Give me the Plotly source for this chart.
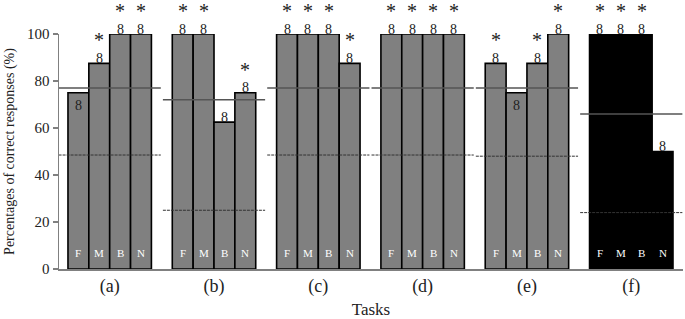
import plotly.graph_objects as go

groups = ["(a)", "(b)", "(c)", "(d)", "(e)", "(f)"]
conditions = ["F", "M", "B", "N"]
values = [
    [75, 87.5, 100, 100],
    [100, 100, 62.5, 75],
    [100, 100, 100, 87.5],
    [100, 100, 100, 100],
    [87.5, 75, 87.5, 100],
    [100, 100, 100, 50],
]
n_labels = [
    ["8", "8", "8", "8"],
    ["8", "8", "8", "8"],
    ["8", "8", "8", "8"],
    ["8", "8", "8", "8"],
    ["8", "8", "8", "8"],
    ["8", "8", "8", "8"],
]
significant = [
    [False, True, True, True],
    [True, True, False, True],
    [True, True, True, True],
    [True, True, True, True],
    [True, False, True, True],
    [True, True, True, False],
]
label_inside = [
    [True, False, False, False],
    [False, False, False, False],
    [False, False, False, False],
    [False, False, False, False],
    [False, True, False, False],
    [False, False, False, False],
]
solid_level = [77, 72, 77, 77, 77, 66]
dashed_level = [48.5, 25, 48.5, 48.5, 48, 24]
y_ticks = [0, 20, 40, 60, 80, 100]

SERIF = "Liberation Serif, Times New Roman, serif"
GRAY = "#808080"

xs, ys, colors = [], [], []
for g, vals in enumerate(values):
    for i, v in enumerate(vals):
        xs.append(g * 5 + i + 0.5)
        ys.append(v)
        colors.append("#000000" if g == 5 else GRAY)

fig = go.Figure()
fig.add_trace(go.Bar(
    x=xs, y=ys, width=1.0,
    marker=dict(color=colors, line=dict(color="#000000", width=1.6)),
    showlegend=False, hoverinfo="skip",
))

annotations = []
for g, vals in enumerate(values):
    for i, v in enumerate(vals):
        x = g * 5 + i + 0.5
        annotations.append(dict(
            x=x, y=0, xref="x", yref="y", text=conditions[i], showarrow=False,
            yanchor="middle", yshift=16,
            font=dict(family=SERIF, size=11, color="#ffffff"),
        ))
        ysh = -13 if label_inside[g][i] else 5
        annotations.append(dict(
            x=x, y=v, xref="x", yref="y", text=n_labels[g][i], showarrow=False,
            yanchor="middle", yshift=ysh, borderpad=0,
            font=dict(family=SERIF, size=14, color="#222222"),
        ))
        if significant[g][i]:
            annotations.append(dict(
                x=x, y=v, xref="x", yref="y", text="*", showarrow=False,
                yanchor="middle", yshift=23, borderpad=0,
                font=dict(family=SERIF, size=20, color="#222222"),
            ))

shapes = []
for g in range(len(groups)):
    x0 = g * 5 - 0.45
    x1 = g * 5 + 4.45
    shapes.append(dict(type="line", xref="x", yref="y", x0=x0, x1=x1,
                       y0=solid_level[g], y1=solid_level[g],
                       line=dict(color="#555555", width=1.5), layer="above"))
    shapes.append(dict(type="line", xref="x", yref="y", x0=x0, x1=x1,
                       y0=dashed_level[g], y1=dashed_level[g],
                       line=dict(color="#333333", width=1, dash="3px,1px"), layer="above"))

fig.update_layout(
    width=685, height=319,
    margin=dict(l=59, r=2, t=34, b=50),
    paper_bgcolor="white", plot_bgcolor="white",
    bargap=0,
    annotations=annotations,
    shapes=shapes,
    font=dict(family=SERIF, color="#222222"),
)
fig.update_xaxes(
    range=[-0.43, 29.48],
    tickvals=[g * 5 + 2 for g in range(len(groups))],
    ticktext=groups,
    ticks="", showgrid=False, zeroline=False,
    showline=True, linecolor="#808080", linewidth=1.5,
    tickfont=dict(family=SERIF, size=18, color="#222222"),
    title=dict(text="Tasks", font=dict(family=SERIF, size=17, color="#222222"), standoff=7),
)
fig.update_yaxes(
    range=[0, 100],
    tickvals=y_ticks,
    ticks="outside", ticklen=5, tickcolor="#808080", tickwidth=1.2,
    showgrid=False, zeroline=False,
    showline=True, linecolor="#808080", linewidth=1.5,
    tickfont=dict(family=SERIF, size=15, color="#222222"),
    title=dict(text="Percentages of correct responses (%)",
               font=dict(family=SERIF, size=14, color="#222222"), standoff=9),
)

fig.write_html(
    "out.html",
    config={"displayModeBar": False, "staticPlot": True},
    post_script="document.body.style.margin='0';document.body.style.overflow='hidden';",
)
